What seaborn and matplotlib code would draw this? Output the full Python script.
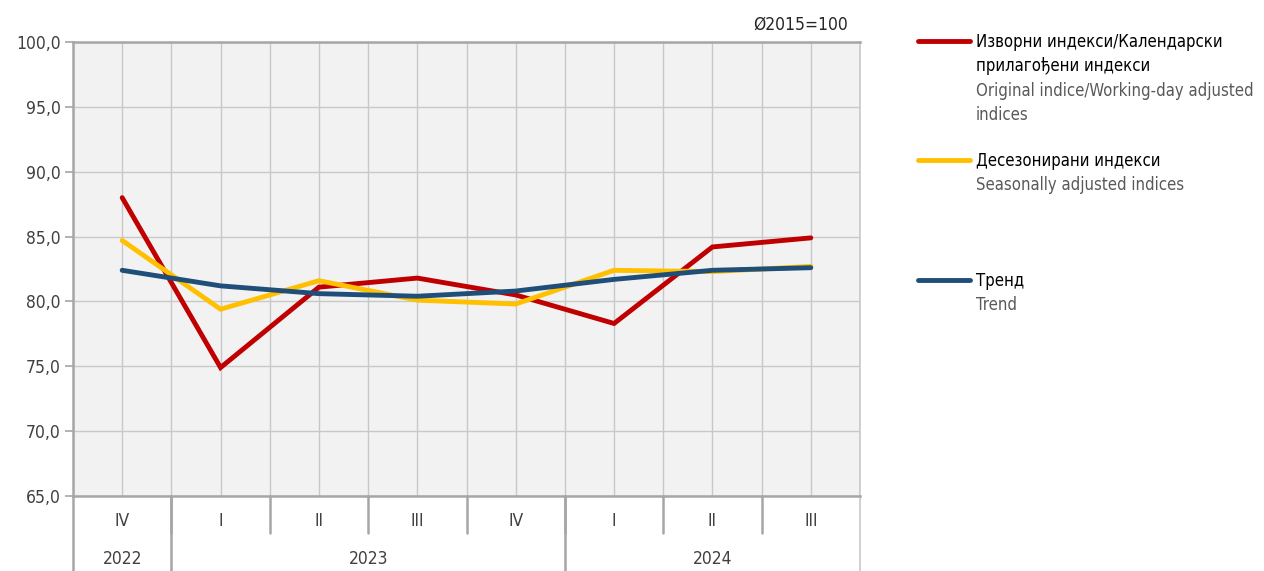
import numpy as np
import pandas as pd
import matplotlib.pyplot as plt
import seaborn as sns
from matplotlib.lines import Line2D

# данни
quarters = ['IV', 'I', 'II', 'III', 'IV', 'I', 'II', 'III']
years = ['2022', '2023', '2024']
year_spans = [(0, 0), (1, 4), (5, 7)]
original = [88.0, 74.9, 81.1, 81.8, 80.5, 78.3, 84.2, 84.9]
seasonal = [84.7, 79.4, 81.6, 80.1, 79.8, 82.4, 82.3, 82.7]
trend = [82.4, 81.2, 80.6, 80.4, 80.8, 81.7, 82.4, 82.6]

names = ['orig', 'seas', 'trend']
colors = ['#C00000', '#FFC000', '#1F4E79']
labels_cyr = ['Изворни индекси/Календарски\nприлагођени индекси',
              'Десезонирани индекси',
              'Тренд']
labels_en = ['Original indice/Working-day adjusted\nindices',
             'Seasonally adjusted indices',
             'Trend']

df = pd.DataFrame({
    'pos': list(range(len(quarters))) * 3,
    'value': original + seasonal + trend,
    'series': [n for n in names for _ in quarters],
})

sns.set_style('white')
plt.rcParams['font.family'] = ['DejaVu Sans']
plt.rcParams['font.stretch'] = 'condensed'
plt.rcParams['font.size'] = 12

fig = plt.figure(figsize=(12.64, 5.71), dpi=100)
ax = fig.add_axes([73 / 1264, 1 - 496 / 571, (860 - 73) / 1264, (496 - 42) / 571])
ax.set_facecolor('#F2F2F2')

sns.lineplot(data=df, x='pos', y='value', hue='series', palette=dict(zip(names, colors)),
             linewidth=3.5, ax=ax, legend=False, sort=False)
for ln in ax.lines:
    ln.set_solid_capstyle('round')
    ln.set_solid_joinstyle('miter')
    ln.set_zorder(5)

n = len(quarters)
ax.set_xlim(-0.5, n - 0.5)
ax.set_ylim(65, 100)
ax.set_yticks(np.arange(65, 100.1, 5))
ax.set_yticklabels([f'{v:.1f}'.replace('.', ',') for v in np.arange(65, 100.1, 5)],
                   color='#404040', fontsize=12.5)
ax.tick_params(axis='y', length=6, width=1.2, color='#A6A6A6', pad=3, left=True)

# сетка
ax.set_xticks(range(n))
ax.set_xticks(np.arange(-0.5, n, 1), minor=True)
ax.grid(True, which='both', axis='x', color='#C8C8C8', linewidth=1)
ax.grid(True, which='major', axis='y', color='#C8C8C8', linewidth=1)
ax.set_axisbelow(True)
ax.tick_params(axis='x', which='both', length=0)
ax.set_xticklabels([])
ax.set_xlabel('')
ax.set_ylabel('')

for s in ['left', 'top', 'bottom']:
    ax.spines[s].set_color('#A6A6A6')
    ax.spines[s].set_linewidth(1.8)
ax.spines['right'].set_color('#C8C8C8')
ax.spines['right'].set_linewidth(1.2)

# подписи по оста x
tr = ax.get_xaxis_transform()
cat_depth = -(533 - 496) / 454
full_depth = -(571 - 496) / 454
for i, q in enumerate(quarters):
    ax.text(i, -(521 - 496) / 454, q, transform=tr, ha='center', va='center',
            color='#404040', fontsize=12.5)
for k in range(1, n):
    ax.plot([k - 0.5, k - 0.5], [0, cat_depth], transform=tr, color='#A6A6A6',
            lw=1.8, clip_on=False)
for (a, b), y in zip(year_spans, years):
    ax.text((a + b) / 2, -(559 - 496) / 454, y, transform=tr, ha='center', va='center',
            color='#404040', fontsize=12.5)
    if a > 0:
        ax.plot([a - 0.5, a - 0.5], [0, full_depth], transform=tr, color='#A6A6A6',
                lw=1.8, clip_on=False)
ax.plot([-0.5, -0.5], [0, full_depth], transform=tr, color='#A6A6A6', lw=1.8, clip_on=False)
ax.plot([n - 0.5, n - 0.5], [0, full_depth], transform=tr, color='#C8C8C8', lw=1.2, clip_on=False)

fig.text(848 / 1264, 1 - 25 / 571, 'Ø2015=100', ha='right', va='center',
         color='#262626', fontsize=12.5)

# легенда
leg_y = [41, 160, 280]
for yy, c, lc, le in zip(leg_y, colors, labels_cyr, labels_en):
    fy = 1 - yy / 571
    fig.add_artist(Line2D([918 / 1264, 970 / 1264], [fy, fy], color=c, lw=3.5,
                          solid_capstyle='round', transform=fig.transFigure))
    fig.text(976 / 1264, 1 - (yy - 8) / 571, lc, ha='left', va='top',
             color='black', fontsize=12, linespacing=1.45)
    nl = lc.count('\n') + 1
    fig.text(976 / 1264, 1 - (yy - 8 + 24.5 * nl) / 571, le, ha='left', va='top',
             color='#595959', fontsize=12, linespacing=1.45)

plt.savefig('out.png', dpi=100)
plt.close()
